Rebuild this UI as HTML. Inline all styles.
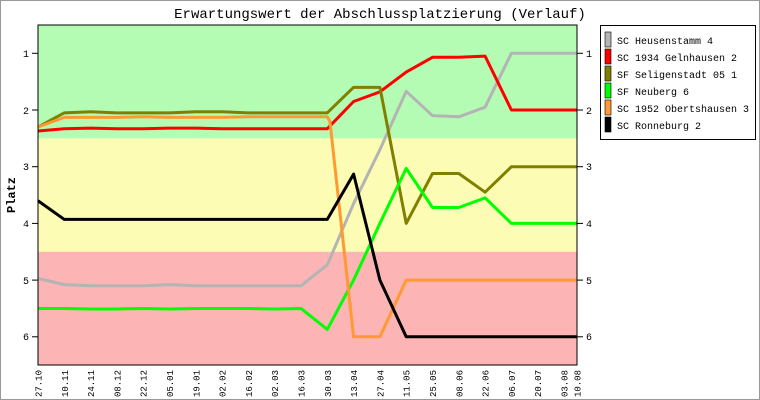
<!DOCTYPE html>
<html><head><meta charset="utf-8"><style>
html,body{margin:0;padding:0;background:#fff}
svg{display:block}
text{font-family:"Liberation Mono","DejaVu Sans Mono",monospace}
</style></head><body>
<svg width="760" height="400" viewBox="0 0 760 400" xmlns="http://www.w3.org/2000/svg">
<rect x="0.5" y="0.5" width="759" height="399" fill="#fff" stroke="#999"/>
<text x="380" y="18" font-size="14" text-anchor="middle" fill="#000">Erwartungswert der Abschlussplatzierung (Verlauf)</text>
<rect x="38" y="25" width="539" height="113.4" fill="#b4fcb4"/>
<rect x="38" y="138.4" width="539" height="113.4" fill="#fcfcb4"/>
<rect x="38" y="251.8" width="539" height="113.2" fill="#fcb4b4"/>
<g stroke="#000" stroke-width="1">
<line x1="32" y1="53.3" x2="38" y2="53.3"/><line x1="32" y1="110" x2="38" y2="110"/><line x1="32" y1="166.7" x2="38" y2="166.7"/><line x1="32" y1="223.4" x2="38" y2="223.4"/><line x1="32" y1="280.1" x2="38" y2="280.1"/><line x1="32" y1="336.8" x2="38" y2="336.8"/>
<line x1="577" y1="53.3" x2="583" y2="53.3"/><line x1="577" y1="110" x2="583" y2="110"/><line x1="577" y1="166.7" x2="583" y2="166.7"/><line x1="577" y1="223.4" x2="583" y2="223.4"/><line x1="577" y1="280.1" x2="583" y2="280.1"/><line x1="577" y1="336.8" x2="583" y2="336.8"/>
</g>
<g font-size="10" fill="#000">
<g text-anchor="end"><text x="29" y="57">1</text><text x="29" y="114">2</text><text x="29" y="170">3</text><text x="29" y="227">4</text><text x="29" y="284">5</text><text x="29" y="340">6</text></g>
<g><text x="586" y="57">1</text><text x="586" y="114">2</text><text x="586" y="170">3</text><text x="586" y="227">4</text><text x="586" y="284">5</text><text x="586" y="340">6</text></g>
</g>
<text transform="translate(15,195) rotate(-90)" font-size="12" font-weight="bold" text-anchor="middle">Platz</text>
<g font-size="9" text-anchor="end">
<text transform="translate(41.5,370) rotate(-90)">27.10</text>
<text transform="translate(67.8,370) rotate(-90)">10.11</text>
<text transform="translate(94.1,370) rotate(-90)">24.11</text>
<text transform="translate(120.4,370) rotate(-90)">08.12</text>
<text transform="translate(146.7,370) rotate(-90)">22.12</text>
<text transform="translate(173,370) rotate(-90)">05.01</text>
<text transform="translate(199.3,370) rotate(-90)">19.01</text>
<text transform="translate(225.6,370) rotate(-90)">02.02</text>
<text transform="translate(251.9,370) rotate(-90)">16.02</text>
<text transform="translate(278.2,370) rotate(-90)">02.03</text>
<text transform="translate(304.5,370) rotate(-90)">16.03</text>
<text transform="translate(330.8,370) rotate(-90)">30.03</text>
<text transform="translate(357.1,370) rotate(-90)">13.04</text>
<text transform="translate(383.4,370) rotate(-90)">27.04</text>
<text transform="translate(409.7,370) rotate(-90)">11.05</text>
<text transform="translate(436,370) rotate(-90)">25.05</text>
<text transform="translate(462.3,370) rotate(-90)">08.06</text>
<text transform="translate(488.6,370) rotate(-90)">22.06</text>
<text transform="translate(514.9,370) rotate(-90)">06.07</text>
<text transform="translate(541.2,370) rotate(-90)">20.07</text>
<text transform="translate(567.5,370) rotate(-90)">03.08</text>
<text transform="translate(580.5,370) rotate(-90)">10.08</text>
</g>
<g transform="translate(38,-3.4) scale(26.3,56.7)" fill="none" stroke-width="3" stroke-linejoin="round">
<polyline vector-effect="non-scaling-stroke" stroke="#b4b4b4" points="0,4.97 1,5.08 2,5.1 3,5.1 4,5.1 5,5.08 6,5.1 7,5.1 8,5.1 9,5.1 10,5.1 11,4.73 12,3.65 13,2.7 14,1.67 15,2.1 16,2.12 17,1.95 18,1 19,1 20,1 20.5,1"/>
<polyline vector-effect="non-scaling-stroke" stroke="#ff0000" points="0,2.37 1,2.33 2,2.32 3,2.33 4,2.33 5,2.32 6,2.32 7,2.33 8,2.33 9,2.33 10,2.33 11,2.33 12,1.85 13,1.68 14,1.33 15,1.07 16,1.07 17,1.05 18,2 19,2 20,2 20.5,2"/>
<polyline vector-effect="non-scaling-stroke" stroke="#808000" points="0,2.3 1,2.05 2,2.03 3,2.05 4,2.05 5,2.05 6,2.03 7,2.03 8,2.05 9,2.05 10,2.05 11,2.05 12,1.6 13,1.6 14,4 15,3.12 16,3.12 17,3.45 18,3 19,3 20,3 20.5,3"/>
<polyline vector-effect="non-scaling-stroke" stroke="#00ff00" points="0,5.5 1,5.5 2,5.51 3,5.51 4,5.5 5,5.51 6,5.5 7,5.5 8,5.5 9,5.51 10,5.5 11,5.87 12,5.0 13,4.0 14,3.03 15,3.72 16,3.72 17,3.55 18,4 19,4 20,4 20.5,4"/>
<polyline vector-effect="non-scaling-stroke" stroke="#ff9933" points="0,2.3 1,2.13 2,2.13 3,2.13 4,2.12 5,2.13 6,2.13 7,2.13 8,2.12 9,2.12 10,2.12 11,2.12 11.1,2.2 12,6 13,6 14,5 15,5 16,5 17,5 18,5 19,5 20,5 20.5,5"/>
<polyline vector-effect="non-scaling-stroke" stroke="#000000" points="0,3.6 1,3.93 2,3.93 3,3.93 4,3.93 5,3.93 6,3.93 7,3.93 8,3.93 9,3.93 10,3.93 11,3.93 12,3.13 13,5 14,6 15,6 16,6 17,6 18,6 19,6 20,6 20.5,6"/>
</g>
<rect x="38" y="25" width="539" height="340" fill="none" stroke="#000" stroke-width="1"/>
<rect x="600.5" y="25.5" width="155" height="114" fill="#fff" stroke="#000"/>
<g stroke="#000" stroke-width="0.6">
<rect x="605" y="32" width="6" height="15" fill="#b4b4b4"/>
<rect x="605" y="49" width="6" height="15" fill="#ff0000"/>
<rect x="605" y="66" width="6" height="15" fill="#808000"/>
<rect x="605" y="83" width="6" height="15" fill="#00ff00"/>
<rect x="605" y="100" width="6" height="15" fill="#ff9933"/>
<rect x="605" y="117" width="6" height="15" fill="#000"/>
</g>
<g font-size="10" fill="#000">
<text x="617" y="44">SC Heusenstamm 4</text>
<text x="617" y="61">SC 1934 Gelnhausen 2</text>
<text x="617" y="78">SF Seligenstadt 05 1</text>
<text x="617" y="95">SF Neuberg 6</text>
<text x="617" y="112">SC 1952 Obertshausen 3</text>
<text x="617" y="129">SC Ronneburg 2</text>
</g>
</svg>
</body></html>
